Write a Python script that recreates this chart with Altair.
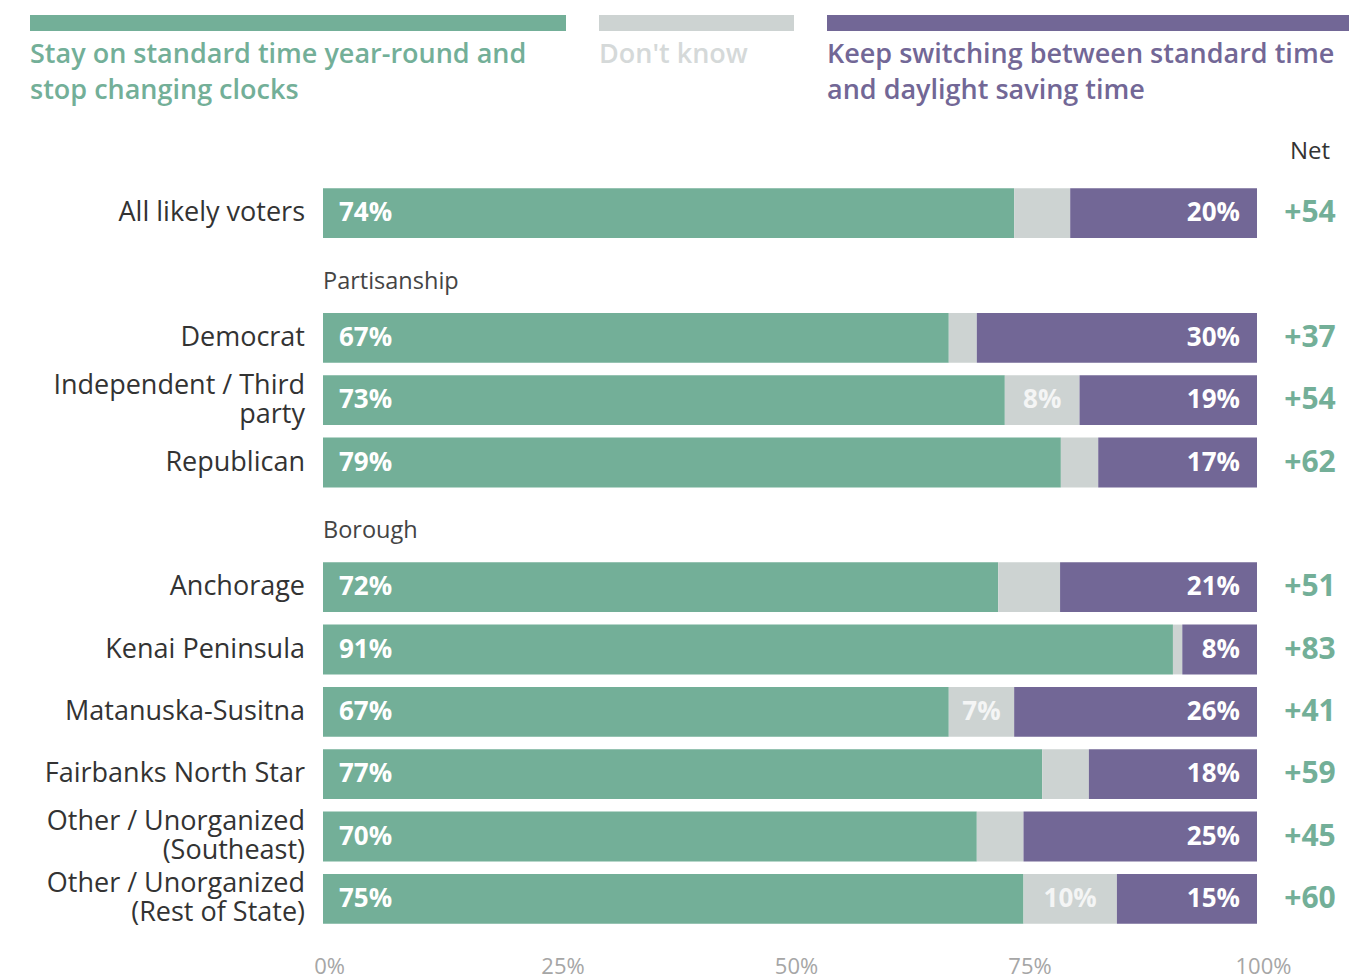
import altair as alt
import pandas as pd

# ---- data ----
categories = [
    "All likely voters",
    "Democrat",
    "Independent / Third|party",
    "Republican",
    "Anchorage",
    "Kenai Peninsula",
    "Matanuska-Susitna",
    "Fairbanks North Star",
    "Other / Unorganized|(Southeast)",
    "Other / Unorganized|(Rest of State)",
]
stay_standard = [74, 67, 73, 79, 72, 91, 67, 77, 70, 75]
dont_know = [6, 3, 8, 4, 6.6, 1, 7, 5, 5, 10]
keep_switching = [20, 30, 19, 17, 21, 8, 26, 18, 25, 15]
net = [54, 37, 54, 62, 51, 83, 41, 59, 45, 60]

group_headers = ["Partisanship", "Borough"]
slots = [
    categories[0], group_headers[0], categories[1], categories[2], categories[3],
    group_headers[1], categories[4], categories[5], categories[6], categories[7],
    categories[8], categories[9],
]

responses = ["Stay", "Don't know", "Keep"]
legend_labels = [
    "Stay on standard time year-round and|stop changing clocks",
    "Don't know",
    "Keep switching between standard time|and daylight saving time",
]
x_ticks = [0, 0.25, 0.5, 0.75, 1]

# ---- styles ----
GREEN = "#73AF98"
GRAY = "#CDD3D2"
PURPLE = "#726796"
bar_colors = [GREEN, GRAY, PURPLE]
legend_text_colors = [GREEN, "#D5D9D9", PURPLE]
FONT = "Open Sans"
W, H = 934, 748
LINE_H = 29

rows = []
for i, c in enumerate(categories):
    for j, (r, v) in enumerate(zip(responses, [stay_standard[i], dont_know[i], keep_switching[i]])):
        rows.append({"row": c, "response": r, "value": v, "order": j})
long = pd.DataFrame(rows)
net_df = pd.DataFrame({"row": categories, "net": [f"+{n}" for n in net]})
head_df = pd.DataFrame({"row": group_headers})
cat_df = pd.DataFrame({"row": categories})

yscale = alt.Scale(domain=slots, paddingInner=0.2, paddingOuter=0.1)
yenc = alt.Y("row:N", scale=yscale, axis=None, sort=slots)
xscale = alt.Scale(domain=[0, 1])
xaxis = alt.Axis(
    values=x_ticks, format=".0%", grid=False, domain=False, ticks=False,
    labelFont=FONT, labelFontSize=22, labelColor="#A6A6A6", labelPadding=36,
    labelBaseline="middle", labelFlush=False, labelOffset=6,
)

base = alt.Chart(long)

bars = base.mark_bar().encode(
    y=yenc,
    x=alt.X("value:Q", stack="normalize", scale=xscale, title="", axis=xaxis),
    color=alt.Color("response:N", scale=alt.Scale(domain=responses, range=bar_colors), legend=None),
    order=alt.Order("order:Q"),
)

label_props = dict(font=FONT, fontSize=26, fontWeight="bold", color="white", baseline="middle")

stay_lbl = base.transform_filter("datum.response == 'Stay'").transform_calculate(
    lbl="format(datum.value, '.0f') + '%'"
).mark_text(align="left", **label_props).encode(y=yenc, x=alt.value(16), text="lbl:N")

keep_lbl = base.transform_filter("datum.response == 'Keep'").transform_calculate(
    lbl="format(datum.value, '.0f') + '%'"
).mark_text(align="right", **label_props).encode(y=yenc, x=alt.value(W - 17), text="lbl:N")

dk_lbl = (
    base.transform_stack(
        stack="value", groupby=["row"], as_=["v0", "v1"],
        sort=[alt.SortField("order", order="ascending")], offset="normalize",
    )
    .transform_filter("datum.response == \"Don't know\" && datum.value >= 7")
    .transform_calculate(mid="(datum.v0 + datum.v1) / 2", lbl="format(datum.value, '.0f') + '%'")
    .mark_text(align="center", font=FONT, fontSize=26, fontWeight="bold", color="#F4F5F5", baseline="middle")
    .encode(y=yenc, x=alt.X("mid:Q", scale=xscale, title="", axis=xaxis), text="lbl:N")
)

net_lbl = alt.Chart(net_df).mark_text(
    align="center", baseline="middle", font=FONT, fontSize=30, fontWeight="bold", color=GREEN
).encode(y=yenc, x=alt.value(987), text="net:N")

net_head = alt.Chart(pd.DataFrame({"t": ["Net"]})).mark_text(
    align="center", baseline="middle", font=FONT, fontSize=24, color="#333333"
).encode(x=alt.value(987), y=alt.value(-30), text="t:N")

ylab_props = dict(align="right", baseline="middle", font=FONT, fontSize=27, color="#333333",
                  lineBreak="|", lineHeight=LINE_H)
y_lbl_one = alt.Chart(cat_df).transform_filter("indexof(datum.row, '|') < 0").mark_text(
    **ylab_props
).encode(y=yenc, x=alt.value(-18), text="row:N")
y_lbl_two = alt.Chart(cat_df).transform_filter("indexof(datum.row, '|') >= 0").mark_text(
    dy=-LINE_H / 2, **ylab_props
).encode(y=yenc, x=alt.value(-18), text="row:N")

head_lbl = alt.Chart(head_df).mark_text(
    align="left", baseline="middle", font=FONT, fontSize=23.5, color="#444444", dy=6
).encode(y=yenc, x=alt.value(0), text="row:N")

# custom legend on top
legend_x = [(-293, 243), (276, 471), (504, 1040)]
legend_layers = []
for (x0, x1), lab, bc, tc in zip(legend_x, legend_labels, bar_colors, legend_text_colors):
    d = pd.DataFrame({"t": [lab]})
    legend_layers.append(
        alt.Chart(d).mark_rect(color=bc).encode(
            x=alt.value(x0), x2=alt.value(x1), y=alt.value(-167), y2=alt.value(-151)
        )
    )
    legend_layers.append(
        alt.Chart(d).mark_text(
            align="left", baseline="middle", font=FONT, fontSize=27, fontWeight=600,
            color=tc, lineBreak="|", lineHeight=36,
        ).encode(x=alt.value(x0), y=alt.value(-127), text="t:N")
    )

chart = alt.layer(
    bars, stay_lbl, keep_lbl, dk_lbl, net_lbl, net_head, y_lbl_one, y_lbl_two, head_lbl, *legend_layers
).properties(
    width=W,
    height=H,
    padding={"left": 315, "top": 174, "right": 92, "bottom": 52},
    autosize=alt.AutoSizeParams(type="none"),
).configure_view(stroke=None)

chart.save("out.html", embed_options={"renderer": "svg", "actions": False})
